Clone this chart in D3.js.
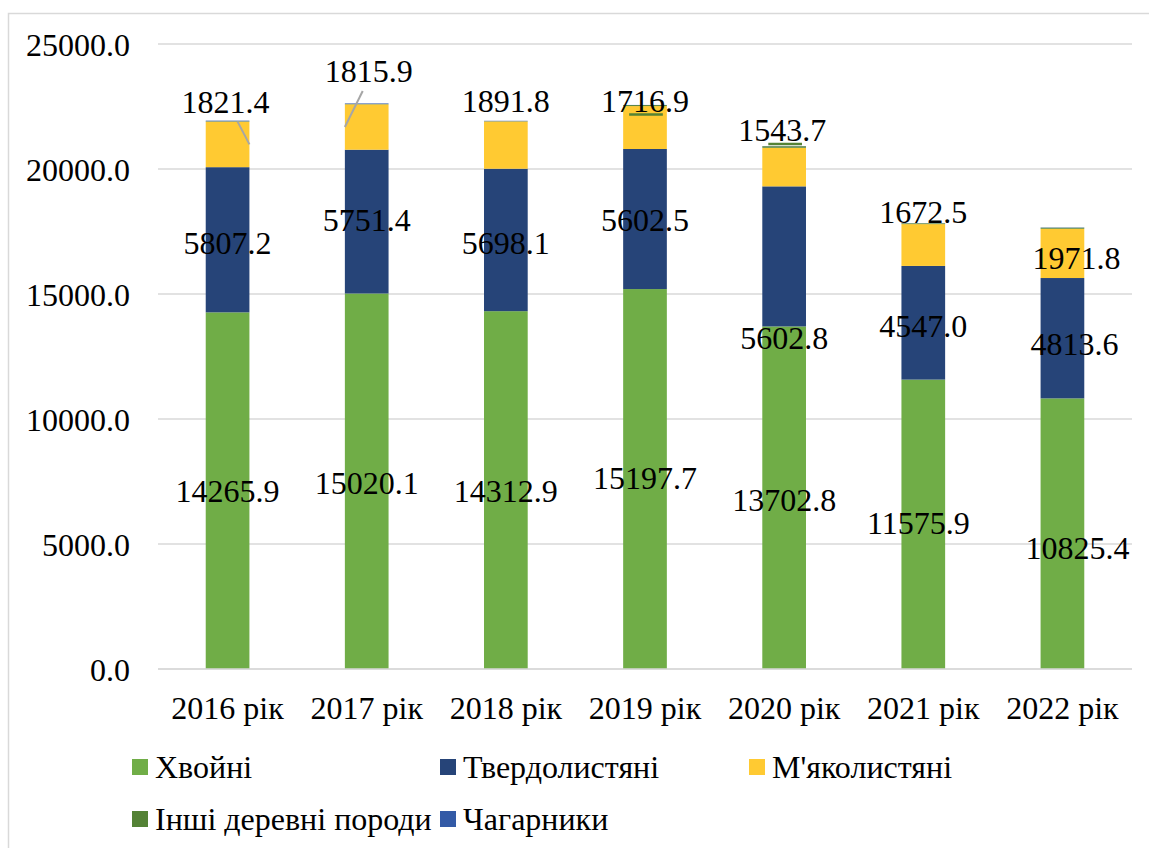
<!DOCTYPE html>
<html>
<head>
<meta charset="utf-8">
<script src="https://cdn.jsdelivr.net/npm/d3@7"></script>
<style>
  body { margin: 0; background: #fff; }
</style>
</head>
<body>
<div id="chart"></div>
<script>
// chart data
const years = ["2016 рік", "2017 рік", "2018 рік", "2019 рік", "2020 рік", "2021 рік", "2022 рік"];
const seriesNames = ["Хвойні", "Твердолистяні", "М'яколистяні", "Інші деревні породи", "Чагарники"];
const khvoini = [14265.9, 15020.1, 14312.9, 15197.7, 13702.8, 11575.9, 10825.4];
const tverdolystiani = [5807.2, 5751.4, 5698.1, 5602.5, 5602.8, 4547.0, 4813.6];
const miakolystiani = [1821.4, 1815.9, 1891.8, 1716.9, 1543.7, 1672.5, 1971.8];
const inshi = [15, 10, 10, 40, 60, 30, 40];
const chaharnyky = [25, 25, 15, 5, 5, 5, 10];
const yTicks = [0, 5000, 10000, 15000, 20000, 25000];

const colors = ["#70AD47", "#264478", "#FFCA32", "#548235", "#335AA6"];

// label nudges (px) like the manually dragged labels in the original
const labelDx = [
  [0, 0, 0, 0, 0, -5, 15],
  [0, 0, 0, 0, 0, 0, 12],
  [-2, 2, 0, 0, -2, 0, 14]
];
const labelDy = [
  [0, 2, 1, -1, 2, -2, 14],
  [3, -2, 3, 1, 81, 3, 6],
  [-43, -56, -44, -27, -37, -33, 4]
];

const W = 1149, H = 848;
const margin = { top: 44, left: 158, right: 17, bottom: 179 };
const innerW = W - margin.left - margin.right;
const innerH = H - margin.top - margin.bottom;
const fontSize = 32;
const fontFamily = "'Liberation Serif', 'Times New Roman', serif";

const svg = d3.select("#chart").append("svg")
  .attr("width", W)
  .attr("height", H)
  .attr("font-family", fontFamily);

// chart frame
svg.append("rect")
  .attr("x", 8.5).attr("y", 13.5)
  .attr("width", W + 10).attr("height", H + 10)
  .attr("fill", "none")
  .attr("stroke", "#D9D9D9")
  .attr("stroke-width", 1.5);

const g = svg.append("g")
  .attr("transform", "translate(" + margin.left + "," + margin.top + ")");

const x = d3.scaleBand().domain(years).range([0, innerW]).paddingInner(0.686).paddingOuter(0.343);
const y = d3.scaleLinear().domain([0, 25000]).range([innerH, 0]);

// gridlines
g.append("g").attr("class", "grid")
  .selectAll("line")
  .data(yTicks)
  .join("line")
  .attr("x1", 0).attr("x2", innerW)
  .attr("y1", d => y(d)).attr("y2", d => y(d))
  .attr("stroke", "#D9D9D9")
  .attr("stroke-width", 1.5);

// y axis labels
const yAxis = g.append("g")
  .call(d3.axisLeft(y).tickValues(yTicks).tickFormat(d3.format(".1f")).tickSize(0).tickPadding(28))
  .attr("font-family", fontFamily);
yAxis.select(".domain").remove();
yAxis.selectAll("text")
  .attr("font-family", fontFamily)
  .attr("font-size", fontSize)
  .attr("fill", "#000")
  .attr("dy", "0.35em");

// x axis labels
const xAxis = g.append("g")
  .attr("transform", "translate(0," + innerH + ")")
  .call(d3.axisBottom(x).tickSize(0).tickPadding(27))
  .attr("font-family", fontFamily);
xAxis.select(".domain").remove();
xAxis.selectAll("text")
  .attr("font-family", fontFamily)
  .attr("font-size", fontSize)
  .attr("fill", "#000");

// stacked data
const rows = years.map((yr, i) => ({
  year: yr,
  s0: khvoini[i], s1: tverdolystiani[i], s2: miakolystiani[i], s3: inshi[i], s4: chaharnyky[i]
}));
const stack = d3.stack().keys(["s0", "s1", "s2", "s3", "s4"]);
const layers = stack(rows);

g.append("g").selectAll("g")
  .data(layers)
  .join("g")
  .attr("fill", (d, i) => colors[i])
  .selectAll("rect")
  .data(d => d)
  .join("rect")
  .attr("x", d => x(d.data.year))
  .attr("y", d => y(d[1]))
  .attr("width", x.bandwidth())
  .attr("height", d => y(d[0]) - y(d[1]));

// data labels for the three main series
const labels = g.append("g");
layers.slice(0, 3).forEach((layer, si) => {
  labels.selectAll(null)
    .data(layer)
    .join("text")
    .attr("x", (d, i) => x(d.data.year) + x.bandwidth() / 2 + labelDx[si][i])
    .attr("y", (d, i) => (y(d[0]) + y(d[1])) / 2 + labelDy[si][i])
    .attr("dy", "0.35em")
    .attr("text-anchor", "middle")
    .attr("font-family", fontFamily)
    .attr("font-size", fontSize)
    .attr("fill", "#000")
    .text(d => d3.format(".1f")(d[1] - d[0]));
});

// leader lines for dragged labels of М'яколистяні
const leaders = [
  { i: 0, side: "right" },
  { i: 1, side: "left" }
];
const yl = layers[2];
leaders.forEach(l => {
  const d = yl[l.i];
  const cx = x(d.data.year) + x.bandwidth() / 2;
  const ly = (y(d[0]) + y(d[1])) / 2 + labelDy[2][l.i];
  const segMid = y(d[1]) + (y(d[0]) - y(d[1])) / 2;
  let x1, y1, x2, y2;
  if (l.side === "right") {
    x1 = cx + 10; y1 = y(d[1]);
    x2 = x(d.data.year) + x.bandwidth(); y2 = segMid;
  } else {
    x1 = cx - 4; y1 = ly + 20;
    x2 = x(d.data.year); y2 = segMid;
  }
  g.append("line")
    .attr("x1", x1).attr("y1", y1).attr("x2", x2).attr("y2", y2)
    .attr("stroke", "#A6A6A6").attr("stroke-width", 2);
});

// green leader marks for Інші деревні породи (2019, 2020)
[3, 4].forEach(i => {
  const d = yl[i];
  const ly = (y(d[0]) + y(d[1])) / 2 + labelDy[2][i];
  g.append("line")
    .attr("x1", x(d.data.year) + 6).attr("x2", x(d.data.year) + x.bandwidth() - 4)
    .attr("y1", ly + 14).attr("y2", ly + 14)
    .attr("stroke", colors[3]).attr("stroke-width", 2.5);
});

// x baseline
g.append("line")
  .attr("x1", 0).attr("x2", innerW)
  .attr("y1", y(0)).attr("y2", y(0))
  .attr("stroke", "#D9D9D9").attr("stroke-width", 1.5);

// legend
const legendCols = [132, 440, 749];
const legendRows = [778, 830];
const legend = svg.append("g");
seriesNames.forEach((name, i) => {
  const lx = legendCols[i % 3], ly = legendRows[Math.floor(i / 3)];
  legend.append("rect")
    .attr("x", lx).attr("y", ly - 19)
    .attr("width", 16).attr("height", 16)
    .attr("fill", colors[i]);
  legend.append("text")
    .attr("x", lx + 23).attr("y", ly)
    .attr("font-family", fontFamily)
    .attr("font-size", fontSize)
    .attr("fill", "#000")
    .text(name);
});
</script>
</body>
</html>
